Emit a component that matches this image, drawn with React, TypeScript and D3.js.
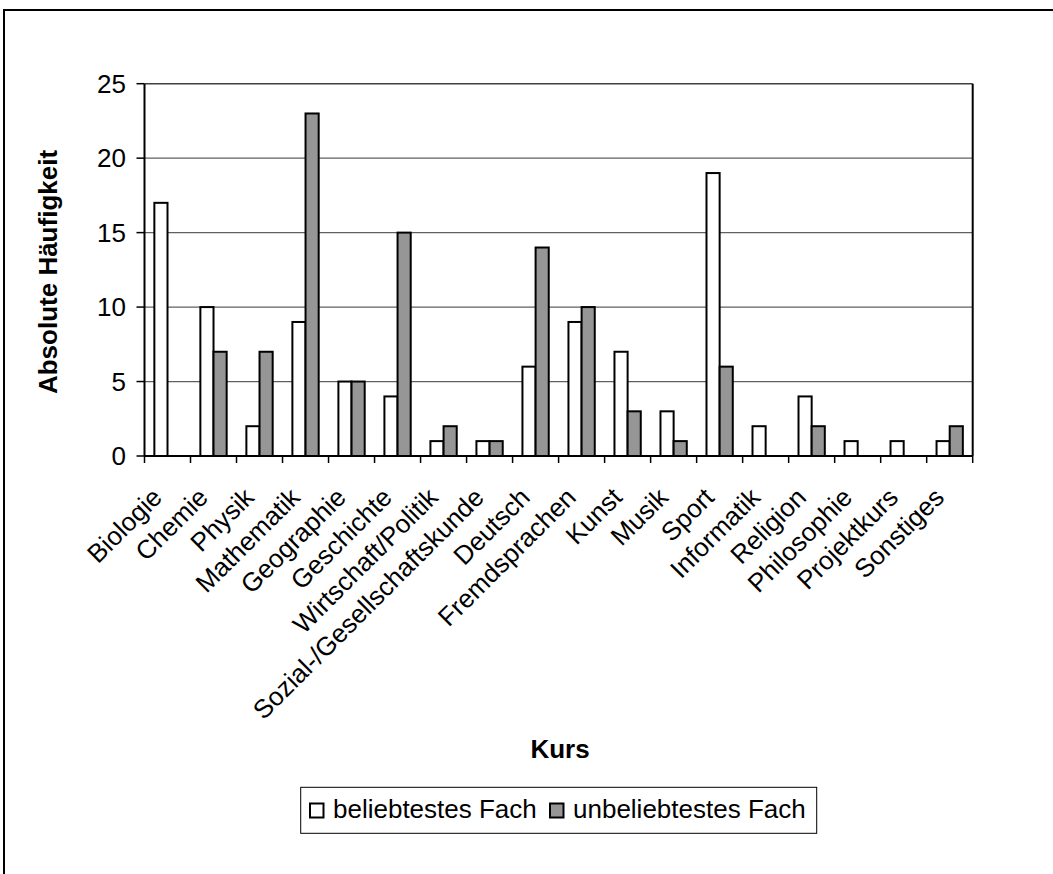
import React from "react";
import * as d3 from "d3";

const categories = [
  "Biologie", "Chemie", "Physik", "Mathematik", "Geographie", "Geschichte",
  "Wirtschaft/Politik", "Sozial-/Gesellschaftskunde", "Deutsch", "Fremdsprachen",
  "Kunst", "Musik", "Sport", "Informatik", "Religion", "Philosophie", "Projektkurs", "Sonstiges",
];
const beliebtestes = [17, 10, 2, 9, 5, 4, 1, 1, 6, 9, 7, 3, 19, 2, 4, 1, 1, 1];
const unbeliebtestes = [0, 7, 7, 23, 5, 15, 2, 1, 14, 10, 3, 1, 6, 0, 2, 0, 0, 2];
const seriesNames = ["beliebtestes Fach", "unbeliebtestes Fach"];
const yTicks = [0, 5, 10, 15, 20, 25];

const W = 1053, H = 874;
const X0 = 144.5, X1 = 972.7, YT = 83.7, YB = 456;
const FONT = "'Liberation Sans', Arial, sans-serif";
const FS = 26;
const colors = ["#ffffff", "#969696"];

export default function App() {
  const x = d3.scaleBand<string>().domain(categories).range([X0, X1]).paddingInner(0).paddingOuter(0);
  const bw = x.bandwidth();
  const barW = bw / 3.5;
  const y = d3.scaleLinear().domain([0, 25]).range([YB, YT]);
  const data = [beliebtestes, unbeliebtestes];

  return (
    <svg width={W} height={H} style={{ position: "absolute", left: 0, top: 0, background: "#fff" }} fontFamily={FONT}>
      <rect x={0} y={0} width={W} height={H} fill="#fff" />
      {/* outer frame */}
      <rect x={4} y={10} width={W + 20} height={H + 20} fill="none" stroke="#000" strokeWidth={2} />
      {/* gridlines */}
      {yTicks.filter(t => t > 0).map(t => (
        <line key={t} x1={X0} x2={X1} y1={y(t)} y2={y(t)} stroke={t === 25 ? "#404040" : "#606060"} strokeWidth={t === 25 ? 1.5 : 1.2} />
      ))}
      {/* right border */}
      <line x1={X1} x2={X1} y1={YT} y2={YB} stroke="#000" strokeWidth={2} />
      {/* bars */}
      {data.map((vals, s) =>
        vals.map((v, i) => {
          const cx = (x(categories[i]) as number) + bw / 2;
          const bx = cx - barW + s * barW;
          return v > 0 ? (
            <rect key={`${s}-${i}`} x={bx} y={y(v)} width={barW} height={YB - y(v)} fill={colors[s]} stroke="#000" strokeWidth={2} />
          ) : null;
        })
      )}
      {/* y axis */}
      <line x1={X0} x2={X0} y1={YT} y2={YB} stroke="#000" strokeWidth={2} />
      {yTicks.map(t => (
        <g key={t}>
          <line x1={X0 - 8} x2={X0} y1={y(t)} y2={y(t)} stroke="#000" strokeWidth={1.5} />
          <text x={126} y={y(t)} dy="0.35em" textAnchor="end" fontSize={FS}>{t}</text>
        </g>
      ))}
      {/* x axis */}
      <line x1={X0} x2={X1} y1={YB} y2={YB} stroke="#000" strokeWidth={2} />
      {d3.range(categories.length + 1).map(i => (
        <line key={i} x1={X0 + i * bw} x2={X0 + i * bw} y1={YB} y2={YB + 7} stroke="#000" strokeWidth={1.5} />
      ))}
      {categories.map(c => {
        const cx = (x(c) as number) + bw / 2;
        const ax = cx - 4, ay = YB + 43;
        return (
          <text key={c} x={ax} y={ay} textAnchor="end" fontSize={FS} transform={`rotate(-45 ${ax} ${ay})`}>{c}</text>
        );
      })}
      {/* axis titles */}
      <text x={57} y={272} textAnchor="middle" fontSize={FS} fontWeight="bold" transform="rotate(-90 57 272)">Absolute Häufigkeit</text>
      <text x={560} y={758} textAnchor="middle" fontSize={FS} fontWeight="bold">Kurs</text>
      {/* legend */}
      <rect x={300.7} y={787.3} width={516} height={46} fill="#fff" stroke="#000" strokeWidth={1} />
      {seriesNames.map((n, i) => {
        const sx = i === 0 ? 310 : 550;
        return (
          <g key={n}>
            <rect x={sx} y={803.5} width={13.5} height={14} fill={colors[i]} stroke="#000" strokeWidth={2} />
            <text x={sx + 23} y={818} fontSize={FS}>{n}</text>
          </g>
        );
      })}
    </svg>
  );
}
